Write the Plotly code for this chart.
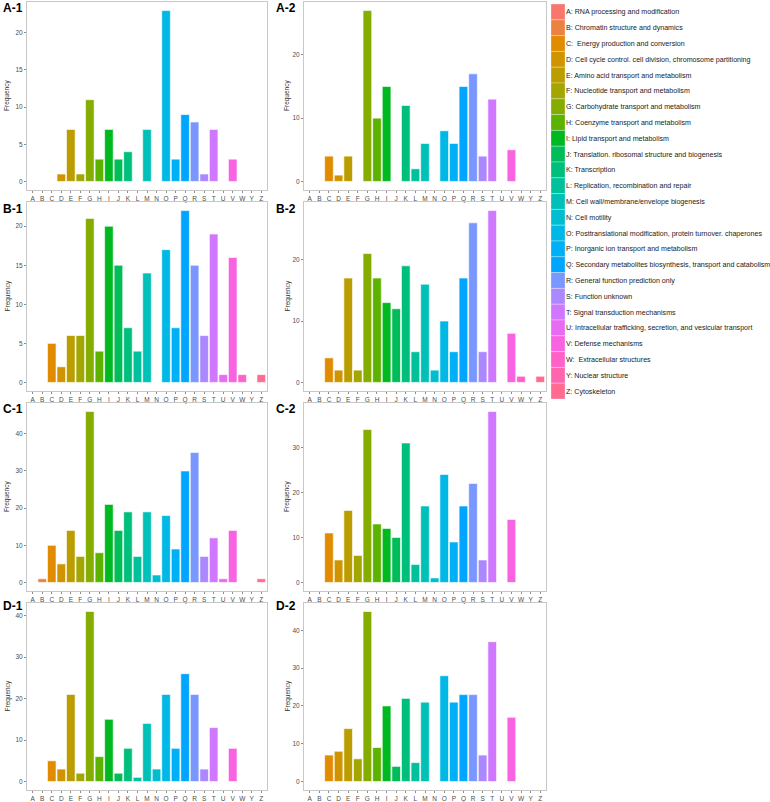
import math
import plotly.graph_objects as go

categories = ["A", "B", "C", "D", "E", "F", "G", "H", "I", "J", "K", "L", "M",
              "N", "O", "P", "Q", "R", "S", "T", "U", "V", "W", "Y", "Z"]
descriptions = [
    "A: RNA processing and modification",
    "B: Chromatin structure and dynamics",
    "C:  Energy production and conversion",
    "D: Cell cycle control. cell division, chromosome partitioning",
    "E: Amino acid transport and metabolism",
    "F: Nucleotide transport and metabolism",
    "G: Carbohydrate transport and metabolism",
    "H: Coenzyme transport and metabolism",
    "I: Lipid transport and metabolism",
    "J: Translation. ribosomal structure and biogenesis",
    "K: Transcription",
    "L: Replication, recombination and repair",
    "M: Cell wall/membrane/envelope biogenesis",
    "N: Cell motility",
    "O: Posttranslational modification, protein turnover. chaperones",
    "P: Inorganic ion transport and metabolism",
    "Q: Secondary metabolites biosynthesis, transport and catabolism",
    "R: General function prediction only",
    "S: Function unknown",
    "T: Signal transduction mechanisms",
    "U: Intracellular trafficking, secretion, and vesicular transport",
    "V: Defense mechanisms",
    "W:  Extracellular structures",
    "Y: Nuclear structure",
    "Z: Cytoskeleton",
]

#      A  B  C   D   E  F   G   H   I   J   K  L   M  N   O   P   Q   R  S   T  U   V  W  Y  Z
a1 = [0, 0, 0,  1,  7, 1, 11,  3,  7,  3,  4, 0,  7, 0, 23,  3,  9,  8, 1,  7, 0,  3, 0, 0, 0]
a2 = [0, 0, 4,  1,  4, 0, 27, 10, 15,  0, 12, 2,  6, 0,  8,  6, 15, 17, 4, 13, 0,  5, 0, 0, 0]
b1 = [0, 0, 5,  2,  6, 6, 21,  4, 20, 15,  7, 4, 14, 0, 17,  7, 22, 15, 6, 19, 1, 16, 1, 0, 1]
b2 = [0, 0, 4,  2, 17, 2, 21, 17, 13, 12, 19, 5, 16, 2, 10,  5, 17, 26, 5, 28, 0,  8, 1, 0, 1]
c1 = [0, 1, 10, 5, 14, 7, 46,  8, 21, 14, 19, 7, 19, 2, 18,  9, 30, 35, 7, 12, 1, 14, 0, 0, 1]
c2 = [0, 0, 11, 5, 16, 6, 34, 13, 12, 10, 31, 4, 17, 1, 24,  9, 17, 22, 5, 38, 0, 14, 0, 0, 0]
d1 = [0, 0, 5,  3, 21, 2, 41,  6, 15,  2,  8, 1, 14, 3, 21,  8, 26, 21, 3, 13, 0,  8, 0, 0, 0]
d2 = [0, 0, 7,  8, 14, 6, 45,  9, 20,  4, 22, 5, 21, 0, 28, 21, 23, 23, 7, 37, 0, 17, 0, 0, 0]

panel_labels = ["A-1", "A-2", "B-1", "B-2", "C-1", "C-2", "D-1", "D-2"]
panel_values = [a1, a2, b1, b2, c1, c2, d1, d2]
panel_dticks = [5, 10, 5, 10, 10, 10, 10, 10]

W, H = 770, 802


def hcl_hex(h, c=100.0, l=65.0):
    hr = math.radians(h)
    u = c * math.cos(hr)
    v = c * math.sin(hr)
    Xn, Yn, Zn = 95.047, 100.0, 108.883
    Y = Yn * ((l + 16) / 116) ** 3
    den = Xn + 15 * Yn + 3 * Zn
    un, vn = 4 * Xn / den, 9 * Yn / den
    up = u / (13 * l) + un
    vp = v / (13 * l) + vn
    X = Y * 9 * up / (4 * vp)
    Z = Y * (12 - 3 * up - 20 * vp) / (4 * vp)
    X, Y, Z = X / 100, Y / 100, Z / 100
    r = 3.240479 * X - 1.537150 * Y - 0.498535 * Z
    g = -0.969256 * X + 1.875992 * Y + 0.041556 * Z
    b = 0.055648 * X - 0.204043 * Y + 1.057311 * Z

    def gam(t):
        t = 12.92 * t if t <= 0.0031308 else 1.055 * t ** (1 / 2.4) - 0.055
        return int(round(min(1, max(0, t)) * 255))

    return "#%02X%02X%02X" % (gam(r), gam(g), gam(b))


n = len(categories)
colors = [hcl_hex(15 + i * 360.0 / n) for i in range(n)]

# layout geometry (pixels)
col_x = [(27, 267), (304, 546)]
row_y = [(2, 190), (202, 391), (403, 591), (603, 790)]
label_dy = [6, 6.5, 6, 2.5]
label_x = [2, 275]
ytitle_x = [7, 287]

SANS = "Liberation Sans, Arial, Helvetica, sans-serif"

fig = go.Figure()
layout = dict(
    width=W, height=H, margin=dict(l=0, r=0, t=0, b=0, autoexpand=False),
    paper_bgcolor="white", plot_bgcolor="white",
    showlegend=False, font=dict(family=SANS),
)
annotations = []
tickfont = dict(family=SANS, size=6.5, color="#4D4D4D")

for k, (lab, vals, dt) in enumerate(zip(panel_labels, panel_values, panel_dticks)):
    r, c = divmod(k, 2)
    idx = k + 1
    xs = "x" if idx == 1 else "x%d" % idx
    ys = "y" if idx == 1 else "y%d" % idx
    xk = "xaxis" if idx == 1 else "xaxis%d" % idx
    yk = "yaxis" if idx == 1 else "yaxis%d" % idx
    x0, x1 = col_x[c]
    y0, y1 = row_y[r]
    vmax = max(vals)
    fig.add_trace(go.Bar(
        x=categories, y=vals, xaxis=xs, yaxis=ys, width=0.9,
        marker=dict(color=colors, line=dict(color="white", width=0.6)),
        hoverinfo="x+y",
    ))
    layout[xk] = dict(
        domain=[x0 / W, x1 / W], anchor=ys, type="category",
        categoryorder="array", categoryarray=categories,
        range=[-0.6, n - 1 + 0.6], showgrid=False, zeroline=False,
        showline=True, linecolor="#C8C8C8", linewidth=1, mirror=True,
        ticks="outside", ticklen=2, tickcolor="#8C8C8C", tickwidth=0.8,
        tickfont=tickfont, fixedrange=True, automargin=False,
    )
    layout[yk] = dict(
        domain=[1 - y1 / H, 1 - y0 / H], anchor=xs,
        range=[-0.05 * vmax, 1.05 * vmax], dtick=dt, tick0=0,
        showgrid=False, zeroline=False,
        showline=True, linecolor="#C8C8C8", linewidth=1, mirror=True,
        ticks="outside", ticklen=2, tickcolor="#8C8C8C", tickwidth=0.8,
        tickfont=tickfont, fixedrange=True, automargin=False,
    )
    annotations.append(dict(
        x=label_x[c] / W, y=1 - (y0 + label_dy[r]) / H, xref="paper", yref="paper",
        text="<b>%s</b>" % lab, showarrow=False, xanchor="left", yanchor="middle",
        borderpad=0, font=dict(family=SANS, size=12, color="black"),
    ))
    annotations.append(dict(
        x=ytitle_x[c] / W, y=1 - (y0 + y1) / 2 / H, xref="paper", yref="paper",
        text="Frequency", textangle=-90, showarrow=False,
        xanchor="center", yanchor="middle",
        font=dict(family=SANS, size=6.5, color="#333333"),
    ))

# colour key drawn as a one-column stacked bar with category labels
fig.add_trace(go.Bar(
    x=[1] * n, y=categories, orientation="h", xaxis="x9", yaxis="y9", width=1,
    marker=dict(color=colors, line=dict(color="white", width=0.3)),
    hovertext=descriptions, hoverinfo="text",
))
layout["xaxis9"] = dict(domain=[551 / W, 565 / W], anchor="y9", range=[0, 1],
                        visible=False, fixedrange=True, automargin=False)
layout["yaxis9"] = dict(
    domain=[1 - 399 / H, 1 - 4 / H], anchor="x9", type="category",
    categoryorder="array", categoryarray=categories, autorange="reversed",
    side="right", tickmode="array", tickvals=categories, ticktext=descriptions,
    ticks="", showline=False, showgrid=False, zeroline=False,
    tickfont=dict(family=SANS, size=7.1, color="#1A1A1A"),
    fixedrange=True, automargin=False,
)
layout["annotations"] = annotations
fig.update_layout(**layout)
fig.write_html(
    "out.html",
    config={"displayModeBar": False},
    post_script="document.body.style.margin='0';document.body.style.padding='0';",
)
